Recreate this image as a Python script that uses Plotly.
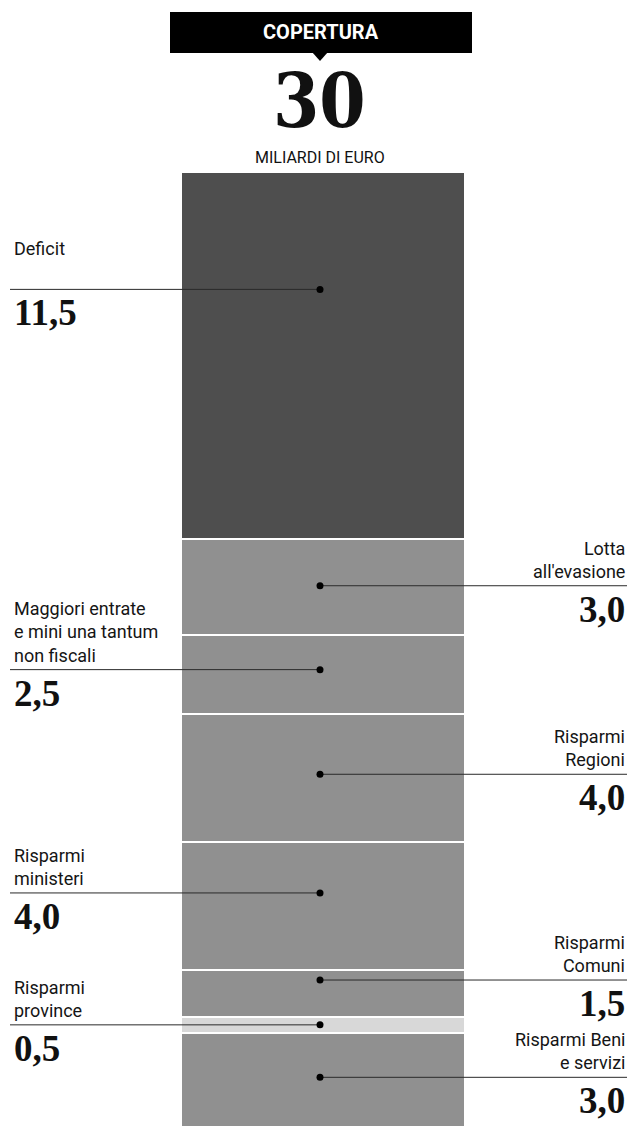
import plotly.graph_objects as go

# --- data -------------------------------------------------------------
labels = [
    "Deficit",
    "Lotta<br>all'evasione",
    "Maggiori entrate<br>e mini una tantum<br>non fiscali",
    "Risparmi<br>Regioni",
    "Risparmi<br>ministeri",
    "Risparmi<br>Comuni",
    "Risparmi<br>province",
    "Risparmi Beni<br>e servizi",
]
values = [11.5, 3.0, 2.5, 4.0, 4.0, 1.5, 0.5, 3.0]
total_label = "30"
unit_label = "MILIARDI DI EURO"
header = "COPERTURA"

# --- layout constants ---------------------------------------------------
W, H = 632, 1126
BAR_TOP_PX = 172          # top edge of the column, in page pixels
PX_PER_UNIT = 31.9        # vertical pixels per billion
BAR_X, BAR_W = 323, 284   # column centre and width (x axis is in pixels)
DOT_X = 320
LEFT_X, RIGHT_X = 12, 627
sides = ["left", "right", "left", "right", "left", "right", "left", "right"]
leader_pos = [0.32, 0.49, 0.44, 0.47, 0.40, 0.22, 0.47, 0.46]
label_gap = [32, 6, 6, 6, 6, 6, 6, 6]
colors = ["#4e4e4e", "#909090", "#909090", "#909090", "#909090", "#909090",
          "#d8d8d8", "#909090"]

SANS = "Roboto, 'Open Sans', sans-serif"
SERIF = "'Liberation Serif', 'DejaVu Serif', serif"
BIG_SERIF = "'DejaVu Serif Condensed', 'Liberation Serif', serif"


def py(px):
    """page pixel row -> paper fraction"""
    return 1 - px / H


fig = go.Figure()

base = 0.0
bases = []
for lab, v, c in zip(labels, values, colors):
    bases.append(base)
    fig.add_trace(go.Bar(
        x=[BAR_X], y=[v], base=[base], width=[BAR_W],
        marker=dict(color=c, line=dict(color="white", width=2)),
        hoverinfo="skip", showlegend=False,
    ))
    base += v

annotations = []
for lab, v, b, side, f, gap in zip(labels, values, bases, sides, leader_pos, label_gap):
    yd = b + f * v
    x_end = LEFT_X - 2 if side == "left" else RIGHT_X
    fig.add_trace(go.Scatter(
        x=[x_end, DOT_X], y=[yd, yd], mode="lines",
        line=dict(color="#2a2a2a", width=1),
        hoverinfo="skip", showlegend=False,
    ))
    fig.add_trace(go.Scatter(
        x=[DOT_X], y=[yd], mode="markers",
        marker=dict(color="black", size=7),
        hoverinfo="skip", showlegend=False,
    ))
    tx = LEFT_X if side == "left" else RIGHT_X
    anchor = "left" if side == "left" else "right"
    annotations.append(dict(
        x=tx, y=yd, xref="x", yref="y", text=lab, showarrow=False,
        xanchor=anchor, yanchor="bottom", align=anchor, yshift=gap - 4,
        font=dict(family=SANS, size=18, color="#151515"),
    ))
    annotations.append(dict(
        x=tx, y=yd, xref="x", yref="y",
        text=f"<b>{v:.1f}</b>".replace(".", ","), showarrow=False,
        xanchor=anchor, yanchor="top", yshift=-1,
        font=dict(family=SERIF, size=37, color="#111"),
    ))

# header block
annotations.append(dict(
    x=321, y=py(32), xref="x", yref="paper", text="<b>%s</b>" % header,
    showarrow=False, xanchor="center", yanchor="middle",
    font=dict(family=SANS, size=20, color="white"),
))
annotations.append(dict(
    x=319, y=py(146), xref="x", yref="paper", text="<b>%s</b>" % total_label,
    showarrow=False, xanchor="center", yanchor="bottom",
    font=dict(family=BIG_SERIF, size=74, color="#111"),
))
annotations.append(dict(
    x=320, y=py(146), xref="x", yref="paper", text=unit_label,
    showarrow=False, xanchor="center", yanchor="top",
    font=dict(family=SANS, size=16, color="#111"),
))

shapes = [
    dict(type="rect", xref="x", yref="paper", x0=170, x1=472,
         y0=py(53), y1=py(12), fillcolor="black", line=dict(width=0)),
    dict(type="path", xref="x", yref="paper",
         path=f"M 312 {py(52)} L 320 {py(61)} L 328 {py(52)} Z",
         fillcolor="black", line=dict(width=0)),
]

y_span = (H - BAR_TOP_PX) / PX_PER_UNIT
fig.update_layout(
    width=W, height=H,
    margin=dict(l=0, r=0, t=0, b=0),
    paper_bgcolor="white", plot_bgcolor="white",
    barmode="overlay", bargap=0,
    xaxis=dict(range=[0, W], visible=False, fixedrange=True),
    yaxis=dict(range=[y_span, 0], domain=[0, py(BAR_TOP_PX)],
               visible=False, fixedrange=True),
    annotations=annotations, shapes=shapes,
)

fig.write_html("out.html", config={"displayModeBar": False})
